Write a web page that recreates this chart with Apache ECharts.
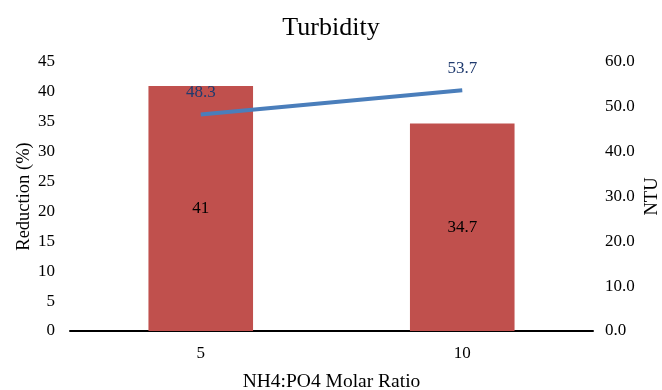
<!DOCTYPE html>
<html>
<head>
<meta charset="utf-8">
<script src="https://cdn.jsdelivr.net/npm/echarts@6/dist/echarts.min.js"></script>
<style>
  html, body { margin: 0; padding: 0; background: #fff; }
  #chart { width: 662px; height: 390px; }
</style>
</head>
<body>
<div id="chart"></div>
<script>
// Molar ratio categories and measured results
const categories = ['5', '10'];
const reduction = [41, 34.7];      // Reduction (%) – bars, left axis
const ntu = [48.3, 53.7];          // Turbidity (NTU) – line, right axis

const serif = '"Liberation Serif", "Times New Roman", serif';

const chart = echarts.init(document.getElementById('chart'));
chart.setOption({
  animation: false,
  backgroundColor: '#ffffff',
  title: {
    text: 'Turbidity',
    left: 'center',
    top: 10,
    textStyle: { fontFamily: serif, fontSize: 26, fontWeight: 'normal', color: '#000' }
  },
  grid: { left: 70, right: 69, top: 62, bottom: 59, containLabel: false, outerBoundsMode: 'none' },
  xAxis: {
    type: 'category',
    data: categories,
    name: 'NH4:PO4 Molar Ratio',
    nameLocation: 'middle',
    nameGap: 41,
    nameMoveOverlap: false,
    nameTextStyle: { fontFamily: serif, fontSize: 19.5, color: '#000' },
    axisLine: { lineStyle: { color: '#000', width: 2 } },
    axisTick: { show: false },
    axisLabel: { fontFamily: serif, fontSize: 17, color: '#000', margin: 14 }
  },
  yAxis: [
    {
      type: 'value',
      min: 0, max: 45, interval: 5,
      name: 'Reduction (%)',
      nameLocation: 'middle',
      nameRotate: 90,
      nameGap: 36,
      nameMoveOverlap: false,
      nameTextStyle: { fontFamily: serif, fontSize: 18.5, color: '#000' },
      axisLine: { show: false },
      axisTick: { show: false },
      splitLine: { show: false },
      axisLabel: { fontFamily: serif, fontSize: 17, color: '#000', margin: 15 }
    },
    {
      type: 'value',
      min: 0, max: 60, interval: 10,
      name: 'NTU',
      nameLocation: 'middle',
      nameRotate: 90,
      nameGap: 50,
      nameMoveOverlap: false,
      nameTextStyle: { fontFamily: serif, fontSize: 18.5, color: '#000' },
      axisLine: { show: false },
      axisTick: { show: false },
      splitLine: { show: false },
      axisLabel: {
        fontFamily: serif, fontSize: 17, color: '#000', margin: 12,
        formatter: v => v.toFixed(1)
      }
    }
  ],
  series: [
    {
      type: 'bar',
      yAxisIndex: 0,
      data: reduction,
      barWidth: '40%',
      itemStyle: { color: '#C0504D' },
      label: {
        show: true,
        position: 'inside',
        fontFamily: serif, fontSize: 17, color: '#000'
      }
    },
    {
      type: 'line',
      yAxisIndex: 1,
      data: ntu,
      showSymbol: true,
      symbol: 'circle',
      symbolSize: 1,
      itemStyle: { color: 'rgba(0,0,0,0)' },
      lineStyle: { color: '#4A7EBB', width: 4 },
      label: {
        show: true,
        position: 'top',
        distance: 13,
        fontFamily: serif, fontSize: 17, color: '#1F3A6E',
        formatter: p => p.value.toFixed(1)
      }
    }
  ]
});
</script>
</body>
</html>
